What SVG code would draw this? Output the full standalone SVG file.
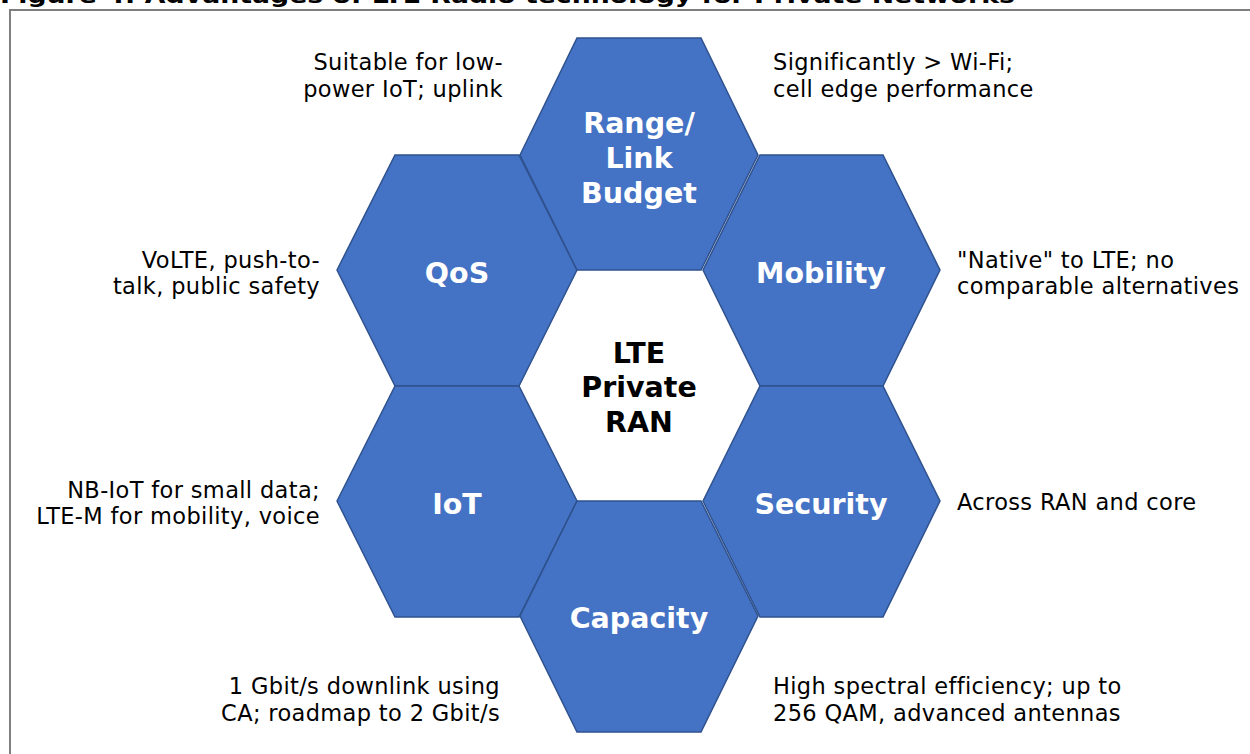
<svg xmlns="http://www.w3.org/2000/svg" width="1250" height="754" viewBox="0 0 1250 754">
<style>
.hex{fill:#4472C4;stroke:#2F528F;stroke-width:1.5}
.hl{font-family:"DejaVu Sans","Verdana",sans-serif;font-weight:bold;font-size:28.5px;fill:#FFFFFF;text-anchor:middle}
.ct{font-family:"DejaVu Sans","Verdana",sans-serif;font-weight:bold;font-size:28.5px;fill:#000000;text-anchor:middle}
.an{font-family:"DejaVu Sans","Verdana",sans-serif;font-size:22.5px;letter-spacing:0.35px;fill:#000000}
.r{text-anchor:end}
</style>
<rect x="0" y="0" width="1250" height="754" fill="#FFFFFF"/>
<text x="0" y="3" font-family="DejaVu Sans, sans-serif" font-weight="bold" font-size="22" textLength="1015" lengthAdjust="spacingAndGlyphs">Figure 4: Advantages of LTE Radio technology for Private Networks</text>
<rect x="10" y="10" width="1260" height="770" fill="none" stroke="#7F7F7F" stroke-width="2"/>
<g id="connectors"/>
<g id="node-qos">
<polygon class="hex" points="337,270 395,155 519,155 577,270 519,386 395,386"/>
<text class="hl" x="457" y="283">QoS</text>
</g>
<g id="node-iot">
<polygon class="hex" points="337,501 395,386 519,386 577,501 519,617 395,617"/>
<text class="hl" x="457" y="514">IoT</text>
</g>
<g id="node-mobility">
<polygon class="hex" points="703,270 760,155 883,155 940,270 883,386 760,386"/>
<text class="hl" x="821" y="283">Mobility</text>
</g>
<g id="node-security">
<polygon class="hex" points="703,501 760,386 883,386 940,501 883,617 760,617"/>
<text class="hl" x="821" y="514">Security</text>
</g>
<g id="node-range">
<polygon class="hex" points="520,155 577,38 701,38 758,155 701,270 577,270"/>
<text class="hl" x="639" y="133">Range/</text>
<text class="hl" x="639" y="168">Link</text>
<text class="hl" x="639" y="203">Budget</text>
</g>
<g id="node-capacity">
<polygon class="hex" points="520,616 577,501 701,501 758,616 701,732 577,732"/>
<text class="hl" x="639" y="628">Capacity</text>
</g>
<g id="node-center">
<text class="ct" x="639" y="363">LTE</text>
<text class="ct" x="639" y="397">Private</text>
<text class="ct" x="639" y="432">RAN</text>
</g>
<g id="annotations">
<text class="an r" x="503" y="70">Suitable for low-</text>
<text class="an r" x="503" y="97">power IoT; uplink</text>
<text class="an" x="773" y="70">Significantly &gt; Wi-Fi;</text>
<text class="an" x="773" y="97">cell edge performance</text>
<text class="an r" x="320" y="268">VoLTE, push-to-</text>
<text class="an r" x="320" y="294">talk, public safety</text>
<text class="an" x="957" y="268">"Native" to LTE; no</text>
<text class="an" x="957" y="294">comparable alternatives</text>
<text class="an r" x="320" y="498">NB-IoT for small data;</text>
<text class="an r" x="320" y="524">LTE-M for mobility, voice</text>
<text class="an" x="957" y="510">Across RAN and core</text>
<text class="an r" x="500" y="694">1 Gbit/s downlink using</text>
<text class="an r" x="500" y="721">CA; roadmap to 2 Gbit/s</text>
<text class="an" x="773" y="694">High spectral efficiency; up to</text>
<text class="an" x="773" y="721">256 QAM, advanced antennas</text>
</g>
</svg>
